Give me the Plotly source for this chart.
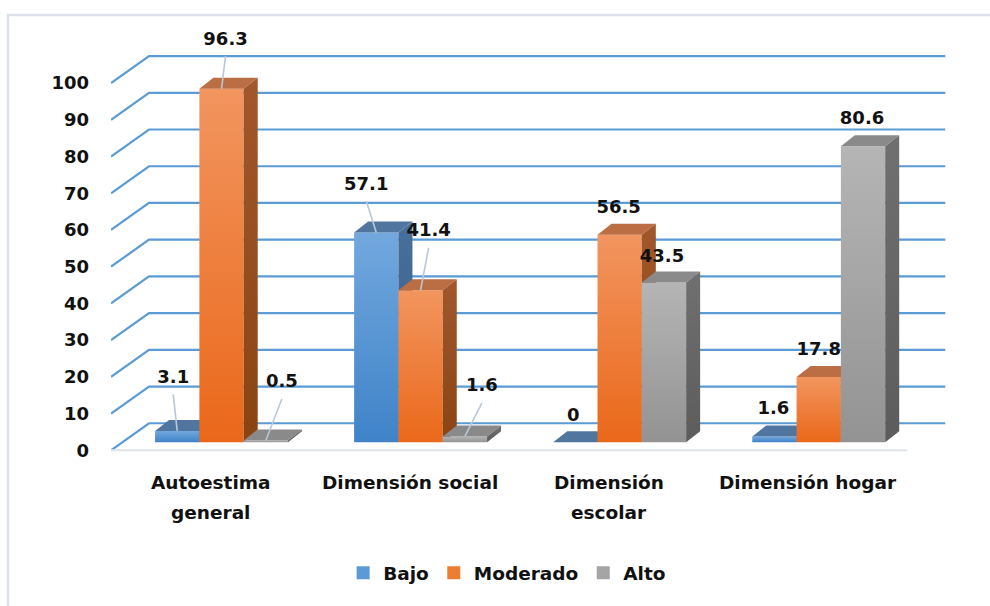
import plotly.graph_objects as go

# ---- data -------------------------------------------------------------
category_lines = [["Autoestima", "general"], ["Dimensión social"],
                  ["Dimensión", "escolar"], ["Dimensión hogar"]]
series_names = ["Bajo", "Moderado", "Alto"]
bajo = [3.1, 57.1, 0, 1.6]
moderado = [96.3, 41.4, 56.5, 17.8]
alto = [0.5, 1.6, 43.5, 80.6]
y_ticks = list(range(0, 101, 10))

# ---- styling ----------------------------------------------------------
FONT = "DejaVu Sans"
TXT = "#111111"
legend_colors = ["#5b9bd5", "#ed7d31", "#a5a5a5"]
front_grad = [("#3f83c8", "#72a8de"), ("#ea681a", "#f2955f"), ("#939393", "#b5b5b5")]
top_colors = ["#50769f", "#bb6d43", "#8a8a8a"]
side_grad = [("#375a82", "#48709c"), ("#8a4412", "#a0582c"), ("#5c5c5c", "#707070")]
GRID = "#5b9bd5"
LEADER = "#b8c8da"

# pixel scale of the axes (px per category / per value unit)
PX_X = 199.0
PX_Y = 3.67


def ux(px):
    return px / PX_X


def uy(px):
    return px / PX_Y


FLOOR_DEPTH = (ux(38), uy(27))     # front edge -> back wall
BAR_PLANE = (ux(11), uy(8))        # where the bar fronts stand
BAR_DEPTH = (ux(14), uy(11))
BAR_W = ux(44.3)

XR = [-0.5, 3.78]
YR = [-10, 115]
LEFT = 111
ZERO_Y = 450
plot_w = (XR[1] - XR[0]) * PX_X
plot_h = (YR[1] - YR[0]) * PX_Y
top_m = ZERO_Y - YR[1] * PX_Y
bottom_px = top_m + plot_h


def px_to_paper(px, py):
    return (px - LEFT) / plot_w, (bottom_px - py) / plot_h


fig = go.Figure()

# ---- walls: gridlines on the side wall + back wall --------------------
gx, gy = [], []
x_left, x_right = -0.5, 3.5
for v in y_ticks:
    gx += [x_left, x_left + FLOOR_DEPTH[0], x_right + FLOOR_DEPTH[0], None]
    gy += [v, v + FLOOR_DEPTH[1], v + FLOOR_DEPTH[1], None]
fig.add_trace(go.Scatter(x=gx, y=gy, mode="lines", line=dict(color=GRID, width=2.2),
                         hoverinfo="skip", showlegend=False))
# floor front edge
fig.add_trace(go.Scatter(x=[x_left, x_right], y=[0, 0], mode="lines",
                         line=dict(color="#dfe4ea", width=2),
                         hoverinfo="skip", showlegend=False))


def face(xs, ys, fill=None, grad=None):
    kw = dict(x=xs + [xs[0]], y=ys + [ys[0]], mode="lines", fill="toself",
              line=dict(width=0, color="rgba(0,0,0,0)"),
              hoverinfo="skip", showlegend=False)
    if grad is not None:
        kw["fillgradient"] = dict(type="vertical",
                                  colorscale=[[0, grad[0]], [1, grad[1]]])
    else:
        kw["fillcolor"] = fill
    fig.add_trace(go.Scatter(**kw))


series = [bajo, moderado, alto]
dx, dy = BAR_DEPTH
bar_geom = {}
for g in range(len(category_lines)):
    for j, vals in enumerate(series):
        v = vals[g]
        x0 = g + BAR_PLANE[0] + (j - 1.5) * BAR_W
        x1 = x0 + BAR_W
        yb = BAR_PLANE[1]
        yt = yb + v
        bar_geom[(j, g)] = (x0, x1, yt)
        if v > 0:
            face([x0, x1, x1, x0], [yb, yb, yt, yt], grad=front_grad[j])
        face([x0, x1, x1 + dx, x0 + dx], [yt, yt, yt + dy, yt + dy], fill=top_colors[j])
        if v > 0:
            face([x1, x1 + dx, x1 + dx, x1], [yb, yb + dy, yt + dy, yt], grad=side_grad[j])

# ---- value labels (offsets in px from each bar's top face) -------------
label_offsets = [
    [(-11, -47), (-17, -42), (-9, -20), (-8, -21)],
    [(-3, -43), (1, -53), (-8, -21), (-7, -21)],
    [(9, -52), (10, -44), (-9, -20), (-8, -21)],
]
lx, ly, lt = [], [], []
leader_x, leader_y = [], []
for j, vals in enumerate(series):
    for g, v in enumerate(vals):
        x0, x1, yt = bar_geom[(j, g)]
        cx = (x0 + x1) / 2 + dx / 2
        cy = yt + dy / 2
        ox, oy = label_offsets[j][g]
        tx, ty = cx + ux(ox), cy - uy(oy)
        lx.append(tx)
        ly.append(ty)
        lt.append(f"{v:g}")
        if abs(oy) > 30:
            leader_x += [tx, (x0 + x1) / 2, None]
            leader_y += [ty - uy(16), yt, None]

fig.add_trace(go.Scatter(x=leader_x, y=leader_y, mode="lines",
                         line=dict(color=LEADER, width=1.6),
                         hoverinfo="skip", showlegend=False))
fig.add_trace(go.Scatter(x=lx, y=ly, mode="text", text=lt, cliponaxis=False,
                         textfont=dict(family=FONT, size=18, color=TXT, weight="bold"),
                         hoverinfo="skip", showlegend=False))

# ---- legend entries ----------------------------------------------------
for name, col in zip(series_names, legend_colors):
    fig.add_trace(go.Scatter(x=[None], y=[None], name=name, mode="markers",
                             marker=dict(symbol="square", size=13, color=col)))

# ---- category labels ---------------------------------------------------
annotations = []
for g, lines in enumerate(category_lines):
    for k, line in enumerate(lines):
        _, py = px_to_paper(0, 482 + 30 * k)
        annotations.append(dict(x=g, y=py, xref="x", yref="paper",
                                text=line, showarrow=False,
                                xanchor="center", yanchor="middle",
                                font=dict(family=FONT, size=18.5, color=TXT, weight="bold")))

bx0, by0 = px_to_paper(8, 620)
bx1, by1 = px_to_paper(1010, 15)
lgx, lgy = px_to_paper(507, 573)

fig.update_layout(
    width=990, height=606,
    margin=dict(l=LEFT, r=990 - LEFT - plot_w, t=top_m, b=606 - bottom_px, pad=0),
    paper_bgcolor="white", plot_bgcolor="white",
    font=dict(family=FONT, color=TXT),
    xaxis=dict(range=XR, visible=False, fixedrange=True, automargin=False),
    yaxis=dict(range=YR, tickvals=y_ticks, showgrid=False, zeroline=False,
               showline=False, ticks="", ticklabelstandoff=21, automargin=False,
               tickfont=dict(family=FONT, size=18, color=TXT, weight="bold"),
               fixedrange=True),
    showlegend=True,
    legend=dict(orientation="h", x=lgx, y=lgy, xanchor="center", yanchor="middle",
                font=dict(family=FONT, size=18.5, color=TXT, weight="bold"),
                itemwidth=30, bgcolor="rgba(0,0,0,0)"),
    annotations=annotations,
    shapes=[dict(type="rect", xref="paper", yref="paper", x0=bx0, y0=by0, x1=bx1, y1=by1,
                 line=dict(color="#dde2ea", width=2.5), fillcolor="rgba(0,0,0,0)",
                 layer="below")],
)

fig.write_html("out.html")
